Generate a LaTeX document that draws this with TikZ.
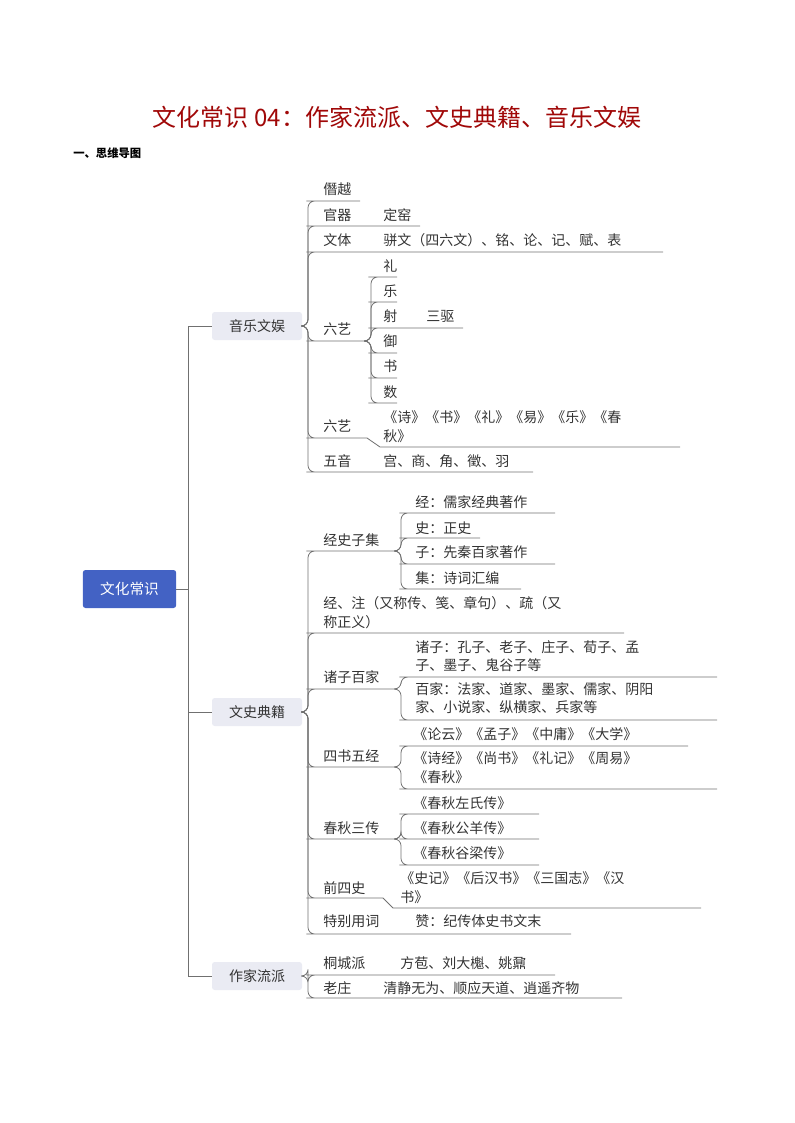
\documentclass[tikz,border=0pt]{standalone}
\usepackage{fontspec}
\setmainfont{Noto Sans CJK SC}
\newfontfamily\cjk{Noto Sans CJK SC}
\definecolor{titlered}{HTML}{A00808}
\definecolor{catfill}{HTML}{EAEBF3}
\definecolor{rootfill}{HTML}{4362C4}
\definecolor{linegray}{HTML}{707070}
\tikzset{
  txt/.style={anchor=west, inner sep=0pt, font=\fontsize{10.5}{14}\selectfont, text=black!80, align=left},
  cat/.style={fill=catfill, rounded corners=2pt, minimum width=67.5pt, minimum height=21pt, inner sep=0pt, font=\fontsize{10.5}{14}\selectfont, text=black!80},
  ln/.style={draw=linegray, line width=0.6pt},
}
% junction, name, start x, line y, end x
\newcommand\leafline[5]{%
  \coordinate (#2s) at (#3,#4);
  \coordinate (#2e) at (#5,#4);
  \draw[ln, rounded corners=5pt] (#1) -- ++(4,0) |- (#2s) -- (#2e);
}
\begin{document}
\begin{tikzpicture}[x=0.75pt, y=-0.75pt]
  \useasboundingbox (0,0) rectangle (794,1123);
  % title
  \node[font=\fontsize{18}{21}\selectfont, text=titlered] (title) at (397,117) {文化常识 04：作家流派、文史典籍、音乐文娱};
  \node[anchor=west, inner sep=0pt, font=\fontsize{8.5}{10}\selectfont\bfseries] (sec) at (73,153) {一、思维导图};
  % root and categories
  \node[fill=rootfill, rounded corners=2pt, minimum width=70pt, minimum height=28.5pt, text=white, font=\fontsize{11}{14}\selectfont] (root) at (129.5,589) {文化常识};
  \node[cat] (yy) at (257,326) {音乐文娱};
  \node[cat] (ws) at (257,712) {文史典籍};
  \node[cat] (zj) at (257,976) {作家流派};
  \coordinate (rj) at (188,589);
  \draw[ln] (root.east) -- (rj);
  \draw[ln] (rj) |- (yy.west);
  \draw[ln] (rj) |- (ws.west);
  \draw[ln] (rj) |- (zj.west);
  \coordinate (yyj) at (304,326);
  \coordinate (wsj) at (304,712);
  \coordinate (zjj) at (304,976);

  % 音乐文娱
  \node[txt] (a1) at (323,189) {僭越};
  \leafline{yyj}{a1}{313}{201}{360}
  \node[txt] (a2) at (323,215) {官器};
  \node[txt] (a2b) at (383,215) {定窑};
  \leafline{yyj}{a2}{313}{226}{420}
  \node[txt] (a3) at (323,240) {文体};
  \node[txt] (a3b) at (383,240) {骈文（四六文）、铭、论、记、赋、表};
  \leafline{yyj}{a3}{313}{252}{663}
  \node[txt] (a4) at (323,329) {六艺};
  \leafline{yyj}{a4}{313}{341}{367}
  \coordinate (a4j) at (367,341);
  \node[txt] (b1) at (383,266) {礼};
  \leafline{a4j}{b1}{375}{277}{397}
  \node[txt] (b2) at (383,291) {乐};
  \leafline{a4j}{b2}{375}{302}{397}
  \node[txt] (b3) at (383,316) {射};
  \node[txt] (b3b) at (426,316) {三驱};
  \leafline{a4j}{b3}{375}{328}{463}
  \node[txt] (b4) at (383,341) {御};
  \leafline{a4j}{b4}{375}{353}{397}
  \node[txt] (b5) at (383,366) {书};
  \leafline{a4j}{b5}{375}{378}{397}
  \node[txt] (b6) at (383,392) {数};
  \leafline{a4j}{b6}{375}{403}{397}
  \node[txt] (a5) at (323,426) {六艺};
  \node[txt] (a5b) at (383,427) {《诗》《书》《礼》《易》《乐》《春\\秋》};
  \leafline{yyj}{a5}{313}{438}{367}
  \draw[ln] (a5e) -- (380,447) -- (680,447);
  \node[txt] (a6) at (323,461) {五音};
  \node[txt] (a6b) at (383,461) {宫、商、角、徵、羽};
  \leafline{yyj}{a6}{313}{472}{533}

  % 文史典籍
  \node[txt] (c1) at (323,540) {经史子集};
  \leafline{wsj}{c1}{313}{551}{397}
  \coordinate (c1j) at (397,551);
  \node[txt] (d1) at (415,502) {经：儒家经典著作};
  \leafline{c1j}{d1}{406}{513}{555}
  \node[txt] (d2) at (415,528) {史：正史};
  \leafline{c1j}{d2}{406}{538}{480}
  \node[txt] (d3) at (415,552) {子：先秦百家著作};
  \leafline{c1j}{d3}{406}{564}{555}
  \node[txt] (d4) at (415,578) {集：诗词汇编};
  \leafline{c1j}{d4}{406}{589}{521}
  \node[txt] (c2) at (323,613) {经、注（又称传、笺、章句）、疏（又\\称正义）};
  \leafline{wsj}{c2}{313}{633}{624}
  \node[txt] (c3) at (323,677) {诸子百家};
  \leafline{wsj}{c3}{313}{689}{397}
  \coordinate (c3j) at (397,689);
  \node[txt] (e1) at (415,656) {诸子：孔子、老子、庄子、荀子、孟\\子、墨子、鬼谷子等};
  \leafline{c3j}{e1}{406}{677}{717}
  \node[txt] (e2) at (415,698) {百家：法家、道家、墨家、儒家、阴阳\\家、小说家、纵横家、兵家等};
  \leafline{c3j}{e2}{406}{720}{717}
  \node[txt] (c4) at (323,756) {四书五经};
  \leafline{wsj}{c4}{313}{767}{397}
  \coordinate (c4j) at (397,767);
  \node[txt] (f1) at (413,734) {《论云》《孟子》《中庸》《大学》};
  \leafline{c4j}{f1}{406}{746}{688}
  \node[txt] (f2) at (413,768) {《诗经》《尚书》《礼记》《周易》\\《春秋》};
  \leafline{c4j}{f2}{406}{789}{717}
  \node[txt] (c5) at (323,828) {春秋三传};
  \leafline{wsj}{c5}{313}{839}{397}
  \coordinate (c5j) at (397,839);
  \node[txt] (g1) at (413,803) {《春秋左氏传》};
  \leafline{c5j}{g1}{406}{814}{539}
  \node[txt] (g2) at (413,828) {《春秋公羊传》};
  \leafline{c5j}{g2}{406}{839}{539}
  \node[txt] (g3) at (413,853) {《春秋谷梁传》};
  \leafline{c5j}{g3}{406}{865}{539}
  \node[txt] (c6) at (323,888) {前四史};
  \node[txt] (c6b) at (400,888) {《史记》《后汉书》《三国志》《汉\\书》};
  \leafline{wsj}{c6}{313}{898}{383}
  \draw[ln] (c6e) -- (393,908) -- (701,908);
  \node[txt] (c7) at (323,921) {特别用词};
  \node[txt] (c7b) at (415,921) {赞：纪传体史书文末};
  \leafline{wsj}{c7}{313}{934}{571}

  % 作家流派
  \node[txt] (h1) at (323,963) {桐城派};
  \node[txt] (h1b) at (400,963) {方苞、刘大櫆、姚鼐};
  \leafline{zjj}{h1}{313}{975}{555}
  \node[txt] (h2) at (323,988) {老庄};
  \node[txt] (h2b) at (383,988) {清静无为、顺应天道、逍遥齐物};
  \leafline{zjj}{h2}{313}{998}{622}
\end{tikzpicture}
\end{document}
